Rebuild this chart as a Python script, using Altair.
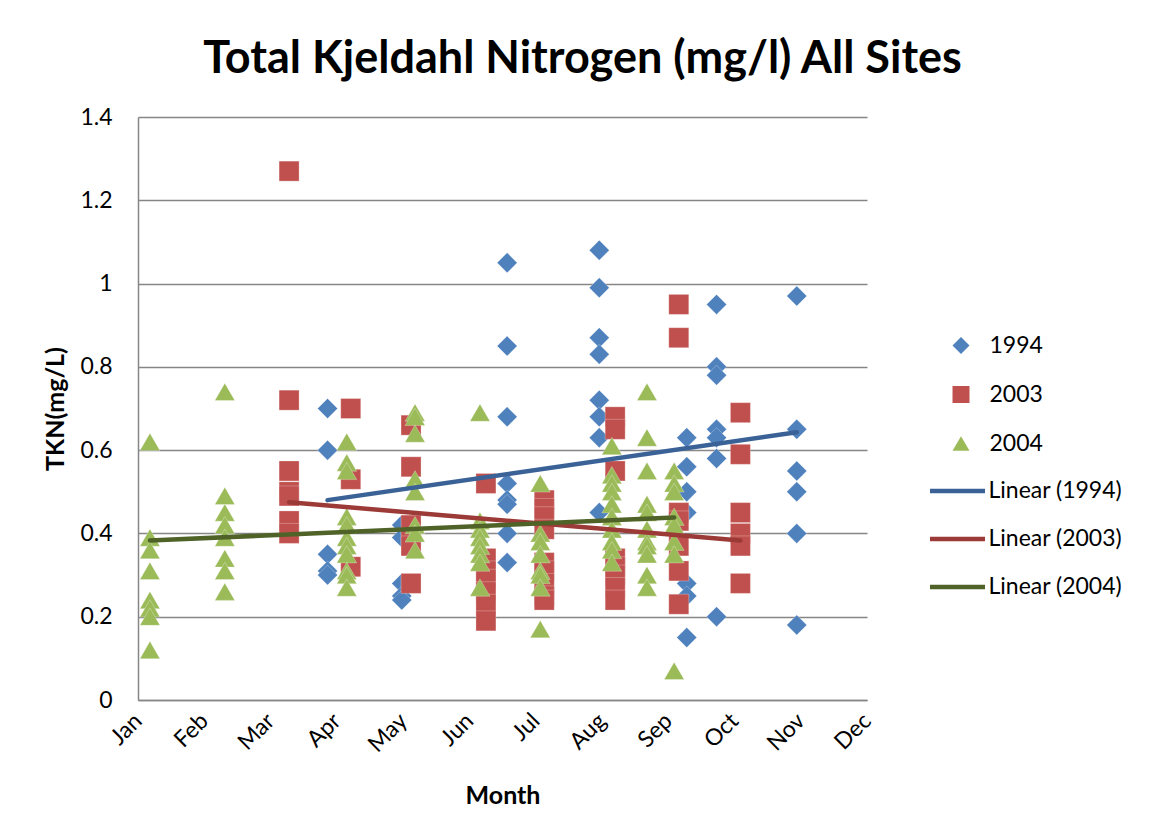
import altair as alt
import pandas as pd

months = ["Jan", "Feb", "Mar", "Apr", "May", "Jun", "Jul", "Aug", "Sep", "Oct", "Nov", "Dec"]
series_names = ["1994", "2003", "2004"]
trend_names = ["Linear (1994)", "Linear (2003)", "Linear (2004)"]
point_colors = ["#4F81BD", "#C0504D", "#9BBB59"]
trend_colors = ["#3A6297", "#9B3A37", "#4F6228"]
shapes = ["diamond", "square", "triangle-up"]

# month positions (1 = Jan ... 12 = Dec) and TKN values
pos_1994 = [3.86, 4.98, 6.57, 7.96, 9.28, 9.73, 10.94]
vals_1994 = [
    [0.70, 0.60, 0.35, 0.31, 0.30],
    [0.42, 0.39, 0.28, 0.25, 0.24],
    [1.05, 0.85, 0.68, 0.52, 0.48, 0.47, 0.40, 0.33],
    [1.08, 0.99, 0.87, 0.83, 0.72, 0.68, 0.63, 0.45],
    [0.63, 0.56, 0.50, 0.45, 0.28, 0.25, 0.15],
    [0.95, 0.80, 0.78, 0.65, 0.63, 0.58, 0.20],
    [0.97, 0.65, 0.55, 0.50, 0.40, 0.18],
]

pos_2003 = [3.28, 4.21, 5.12, 6.25, 7.13, 8.20, 9.16, 10.09]
vals_2003 = [
    [1.27, 0.72, 0.55, 0.50, 0.49, 0.43, 0.40],
    [0.70, 0.53, 0.32],
    [0.66, 0.56, 0.42, 0.39, 0.37, 0.28],
    [0.52, 0.34, 0.31, 0.29, 0.26, 0.23, 0.19],
    [0.48, 0.46, 0.44, 0.41, 0.33, 0.31, 0.28, 0.25, 0.24],
    [0.68, 0.65, 0.55, 0.34, 0.32, 0.30, 0.27, 0.24],
    [0.95, 0.87, 0.45, 0.43, 0.37, 0.31, 0.23],
    [0.69, 0.59, 0.45, 0.40, 0.37, 0.28],
]

pos_2004 = [1.18, 2.31, 4.15, 5.18, 6.16, 7.07, 8.15, 8.68, 9.09]
vals_2004 = [
    [0.62, 0.39, 0.36, 0.31, 0.24, 0.22, 0.20, 0.12],
    [0.74, 0.49, 0.45, 0.42, 0.39, 0.34, 0.31, 0.26],
    [0.62, 0.57, 0.55, 0.44, 0.42, 0.39, 0.37, 0.35, 0.31, 0.30, 0.27],
    [0.69, 0.68, 0.64, 0.53, 0.50, 0.42, 0.40, 0.36],
    [0.69, 0.43, 0.41, 0.39, 0.37, 0.35, 0.33, 0.27],
    [0.52, 0.40, 0.38, 0.35, 0.31, 0.30, 0.27, 0.17],
    [0.61, 0.54, 0.52, 0.50, 0.47, 0.44, 0.41, 0.38, 0.36, 0.33],
    [0.74, 0.63, 0.55, 0.47, 0.45, 0.41, 0.38, 0.37, 0.35, 0.30, 0.27],
    [0.55, 0.52, 0.50, 0.44, 0.42, 0.38, 0.35, 0.07],
]

# linear trendline end values (start, end)
trend_start = [0.480, 0.475, 0.383]
trend_end = [0.643, 0.383, 0.438]

y_ticks = [0, 0.2, 0.4, 0.6, 0.8, 1.0, 1.2, 1.4]

rows = []
all_series = [("1994", pos_1994, vals_1994),
              ("2003", pos_2003, vals_2003),
              ("2004", pos_2004, vals_2004)]
for name, pos, vals in all_series:
    for p, vs in zip(pos, vals):
        for v in vs:
            rows.append({"series": name, "month": p, "tkn": v})
df = pd.DataFrame(rows)

trend_rows = []
for (name, pos, _), tname, y0, y1 in zip(all_series, trend_names, trend_start, trend_end):
    trend_rows.append({"trend": tname, "month": min(pos), "tkn": y0, "o": 0})
    trend_rows.append({"trend": tname, "month": max(pos), "tkn": y1, "o": 1})
df_trend = pd.DataFrame(trend_rows)

FONT = "Lato"
GRID = "#868686"
month_expr = "[" + ",".join("'%s'" % m for m in months) + "][datum.value - 1]"

x_enc = alt.X(
    "month:Q",
    scale=alt.Scale(domain=[1, 12], nice=False, zero=False),
    axis=alt.Axis(
        values=list(range(1, 13)),
        labelExpr=month_expr,
        labelAngle=-45,
        labelAlign="right",
        labelBaseline="middle",
        labelPadding=17,
        ticks=False,
        grid=False,
        title="Month",
        titleFontSize=25,
        titleFontWeight="bold",
        titleBaseline="alphabetic",
        titleY=103,
    ),
)
y_enc = alt.Y(
    "tkn:Q",
    scale=alt.Scale(domain=[0, 1.4], nice=False),
    axis=alt.Axis(
        values=y_ticks,
        format=".1~f",
        ticks=False,
        grid=True,
        labelPadding=26,
        title="TKN(mg/L)",
        titleFontSize=25,
        titleFontWeight="bold",
        titleAngle=270,
        titleAlign="center",
        titleBaseline="alphabetic",
        titleX=-75,
        titleY=291.5,
    ),
)

point_legend = alt.Legend(orient="none", legendX=811.5, legendY=217, title=None,
                          symbolSize=289, labelOffset=17, rowPadding=25,
                          padding=0, symbolStrokeWidth=0)

points = alt.Chart(df).mark_point(
    filled=True, size=400, opacity=1,
    stroke="white", strokeWidth=0.8, strokeOpacity=0.35,
).encode(
    x=x_enc,
    y=y_enc,
    fill=alt.Fill(
        "series:N",
        scale=alt.Scale(domain=series_names, range=point_colors),
        legend=point_legend,
    ),
    shape=alt.Shape(
        "series:N",
        scale=alt.Scale(domain=series_names, range=shapes),
        legend=point_legend,
    ),
)

lines = alt.Chart(df_trend).mark_line(strokeWidth=4.5, strokeCap="round").encode(
    x="month:Q",
    y="tkn:Q",
    order="o:Q",
    stroke=alt.Stroke(
        "trend:N",
        scale=alt.Scale(domain=trend_names, range=trend_colors),
        legend=alt.Legend(orient="none", legendX=789.5, legendY=344, title=None,
                          symbolSize=3025, symbolStrokeWidth=4.5,
                          labelOffset=1, rowPadding=6, padding=0),
    ),
)

chart = alt.layer(points, lines).properties(
    width=729,
    height=583,
    autosize=alt.AutoSizeParams(type="none"),
    padding={"left": 130, "top": 109, "right": 282, "bottom": 120},
    title=alt.Title(
        "Total Kjeldahl Nitrogen (mg/l) All Sites",
        font=FONT,
        fontSize=45,
        fontWeight="bold",
        color="black",
        anchor="middle",
        dx=80,
        offset=24,
    ),
).configure(
    font=FONT,
).configure_axis(
    labelFont=FONT,
    labelFontSize=23,
    labelColor="black",
    titleFont=FONT,
    titleColor="black",
    gridColor=GRID,
    gridWidth=1.5,
    domainColor=GRID,
    domainWidth=1.5,
).configure_legend(
    labelFont=FONT,
    labelFontSize=23,
    labelColor="black",
).configure_view(
    stroke=None,
)

chart.save("out.html", embed_options={"renderer": "svg", "actions": False})
